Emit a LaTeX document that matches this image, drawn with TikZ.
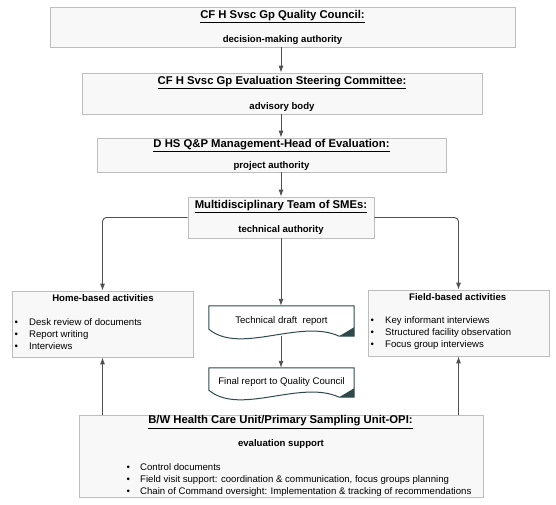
\documentclass[tikz,border=0pt]{standalone}
\usepackage{fontspec}
\setmainfont{Liberation Sans}
\usetikzlibrary{arrows.meta,shadows}
\definecolor{boxfill}{HTML}{F8F8F8}
\definecolor{boxline}{HTML}{BDBDBD}
\definecolor{docline}{HTML}{2F4A4A}
\definecolor{linkgray}{HTML}{505050}
\newcommand{\qtitle}{\fontsize{11.3}{13}\selectfont\bfseries}
\newcommand{\qbody}{\fontsize{9.6}{11.5}\selectfont}
\newcommand{\qlist}{\fontsize{9.6}{11.8}\selectfont}
\newcommand{\qitem}[2][14.5pt]{\makebox[#1][l]{\textbullet}#2}
% outline of a report: straight top, wavy bottom, dark corner
\newcommand{\docshape}[1]{%
  \draw[docedge] (#1.north west) -- (#1.north east) -- (#1.south east) -- ([xshift=-15pt]#1.south east)
    .. controls ([xshift=-54pt,yshift=18pt]#1.south east) and ([xshift=-114pt,yshift=-19pt]#1.south east) .. ([yshift=7pt]#1.south west) -- cycle;
  \fill[docline] (#1.south east) -- ([yshift=9pt]#1.south east) -- ([xshift=-15pt]#1.south east) -- cycle;}
\tikzset{
  authbox/.style={draw=boxline, fill=boxfill, line width=0.8pt,
    drop shadow={shadow xshift=0.9pt,shadow yshift=-0.9pt,fill=gray!70,opacity=.5},
    align=center, font=\qbody\bfseries, inner sep=0pt},
  doc/.style={minimum width=145pt, minimum height=30pt, inner sep=0pt, font=\qbody},
  docedge/.style={draw=docline, line width=1pt},
  link/.style={draw=linkgray, line width=0.9pt, -{Latex[length=7pt,width=5pt]}},
  branch/.style={link, rounded corners=4pt},
}
\begin{document}
\begin{tikzpicture}[x=1pt,y=-1pt]
  \useasboundingbox (0,0) rectangle (556,504);
  % chain of authority
  \node (qc) [authbox, minimum width=465pt, minimum height=40pt] at (282.5,27)
    {{\qtitle\underline{CF H Svsc Gp Quality Council:}}\\[12.5pt]decision-making authority};
  \node (sc) [authbox, minimum width=400pt, minimum height=41pt] at (282,93.5)
    {{\qtitle\underline{CF H Svsc Gp Evaluation Steering Committee:}}\\[13.5pt]advisory body};
  \node (pa) [authbox, minimum width=349pt, minimum height=34pt] at (271.5,155)
    {{\qtitle\underline{D HS Q\&P Management-Head of Evaluation:}}\\[9.5pt]project authority};
  \node (sme) [authbox, minimum width=186pt, minimum height=41pt] at (281,217.5)
    {{\qtitle\underline{Multidisciplinary Team of SMEs:}}\\[12.5pt]technical authority};
  % activities
  \node (home) [authbox, minimum width=181pt, minimum height=66pt] at (102.5,324) {};
  \node (hometitle) [font=\qbody\bfseries, inner sep=0pt] at (103,298) {Home-based activities};
  \node (homelist) [anchor=north west, align=left, font=\qlist, inner sep=0pt] at (14.5,318.5)
    {\qitem{Desk review of documents}\\\qitem{Report writing}\\\qitem{Interviews}};
  \node (field) [authbox, minimum width=181pt, minimum height=66pt] at (458.5,323) {};
  \node (fieldtitle) [font=\qbody\bfseries, inner sep=0pt] at (457.7,297) {Field-based activities};
  \node (fieldlist) [anchor=north west, align=left, font=\qlist, inner sep=0pt] at (370.5,316.5)
    {\qitem{Key informant interviews}\\\qitem{Structured facility observation}\\\qitem{Focus group interviews}};
  % reports
  \node (draft) [doc] at (281.5,321) {Technical draft~ report};
  \docshape{draft}
  \node (final) [doc, minimum height=29pt] at (281.5,382.5) {Final report to Quality Council};
  \docshape{final}
  % support
  \node (support) [authbox, minimum width=404pt, minimum height=82pt] at (281,456) {};
  \node (supporttitle) [font=\qtitle, inner sep=0pt] at (280.5,422)
    {\underline{B/W Health Care Unit/Primary Sampling Unit-OPI:}};
  \node (supportsub) [font=\qbody\bfseries, inner sep=0pt] at (281,444) {evaluation support};
  \node (supportlist) [anchor=north west, align=left, font=\fontsize{9.6}{12}\selectfont, inner sep=0pt] at (126.5,463.5)
    {\qitem[13.5pt]{Control documents}\\
     \qitem[13.5pt]{Field visit support: coordination \& communication, focus groups planning}\\
     \qitem[13.5pt]{Chain of Command oversight: Implementation \& tracking of recommendations}};
  % connectors
  \draw[link] (qc.south -| sme) -- (sc.north -| sme);
  \draw[link] (sc.south -| sme) -- (pa.north -| sme);
  \draw[link] (pa.south -| sme) -- (sme.north);
  \draw[branch] (sme.west) -| (home.north);
  \draw[branch] (sme.east) -| (field.north);
  \draw[link] (sme.south) -- (sme.south |- draft.north);
  \draw[link] (draft.south -| sme) -- (sme |- final.north);
  \draw[link] (support.north -| home) -- (home.south);
  \draw[link] (support.north -| field) -- (field.south);
\end{tikzpicture}
\end{document}
